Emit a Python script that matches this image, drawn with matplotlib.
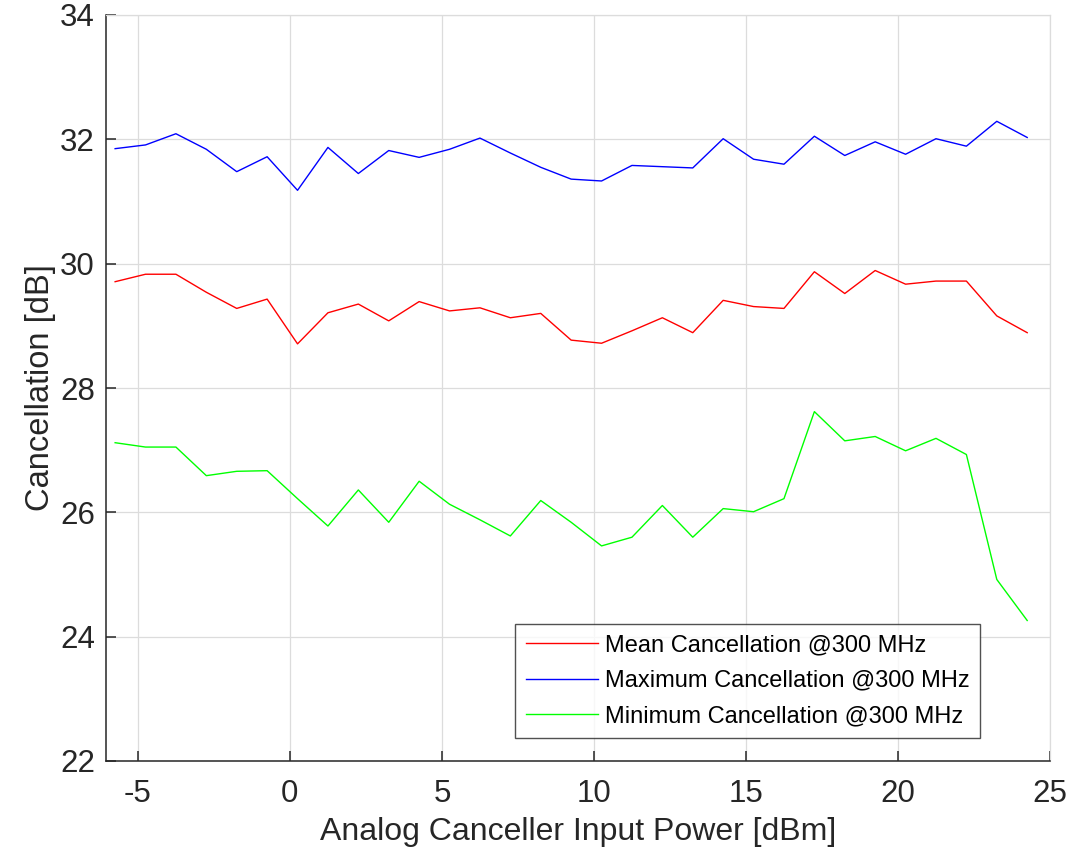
import numpy as np
import matplotlib
matplotlib.use("Agg")
import matplotlib.pyplot as plt

plt.rcParams['font.family'] = ['Liberation Sans', 'DejaVu Sans']

input_power = [-5.75 + k for k in range(31)]

mean_cancel = [29.71, 29.83, 29.83, 29.54, 29.28, 29.43, 28.71, 29.21, 29.35, 29.08,
               29.39, 29.24, 29.29, 29.13, 29.20, 28.77, 28.72, 28.92, 29.13, 28.89,
               29.41, 29.31, 29.28, 29.87, 29.52, 29.89, 29.67, 29.72, 29.72, 29.16,
               28.89]
max_cancel = [31.85, 31.91, 32.09, 31.84, 31.48, 31.72, 31.18, 31.87, 31.45, 31.82,
              31.71, 31.84, 32.02, 31.78, 31.55, 31.36, 31.33, 31.58, 31.56, 31.54,
              32.01, 31.68, 31.60, 32.05, 31.74, 31.96, 31.76, 32.01, 31.89, 32.29,
              32.03]
min_cancel = [27.12, 27.05, 27.05, 26.59, 26.66, 26.67, 26.22, 25.78, 26.36, 25.84,
              26.50, 26.13, 25.88, 25.62, 26.19, 25.84, 25.46, 25.60, 26.11, 25.60,
              26.06, 26.01, 26.22, 27.62, 27.15, 27.22, 26.99, 27.19, 26.93, 24.92,
              24.26]

labels = ['Mean Cancellation @300 MHz', 'Maximum Cancellation @300 MHz',
          'Minimum Cancellation @300 MHz']
xticks = [-5, 0, 5, 10, 15, 20, 25]
yticks = [22, 24, 26, 28, 30, 32, 34]

txt = '#262626'
gridc = '#dcdcdc'

fig = plt.figure(figsize=(10.74, 8.52), dpi=100)
ax = fig.add_axes([106/1074, 1-761/852, (1050-106)/1074, (761-15)/852])

ax.plot(input_power, mean_cancel, color='#ff0000', lw=1.0, label=labels[0])
ax.plot(input_power, max_cancel, color='#0000ff', lw=1.0, label=labels[1])
ax.plot(input_power, min_cancel, color='#00ff00', lw=1.0, label=labels[2])

ax.set_xlim(-6.05, 25)
ax.set_ylim(22, 34)
ax.set_xticks(xticks)
ax.set_yticks(yticks)
ax.set_xticklabels([str(v) for v in xticks])
ax.set_yticklabels([str(v) for v in yticks])
ax.grid(True, color=gridc, lw=0.9)
ax.set_axisbelow(True)

for s in ['left', 'bottom']:
    ax.spines[s].set_color(txt)
    ax.spines[s].set_linewidth(1.1)
for s in ['top', 'right']:
    ax.spines[s].set_color(gridc)
    ax.spines[s].set_linewidth(0.9)

ax.tick_params(axis='both', direction='in', length=7, width=1.1, colors=txt,
               labelsize=22.5, top=False, right=False)
ax.tick_params(axis='x', pad=13)
ax.tick_params(axis='y', pad=8)

ax.set_xlabel('Analog Canceller Input Power [dBm]', fontsize=23, color=txt, labelpad=6)
ax.set_ylabel('Cancellation [dB]', fontsize=23.5, color=txt, labelpad=3)

leg = ax.legend(loc='lower right', bbox_to_anchor=(980/1074, 1-738/852),
                bbox_transform=fig.transFigure, fontsize=17.0, frameon=True,
                fancybox=False, edgecolor=txt, handlelength=3.05, handletextpad=0.3,
                borderpad=0.45, labelspacing=0.57, borderaxespad=0)
leg.get_frame().set_linewidth(1.0)
for t in leg.get_texts():
    t.set_color('black')

fig.savefig('out.png', dpi=100, facecolor='white')
